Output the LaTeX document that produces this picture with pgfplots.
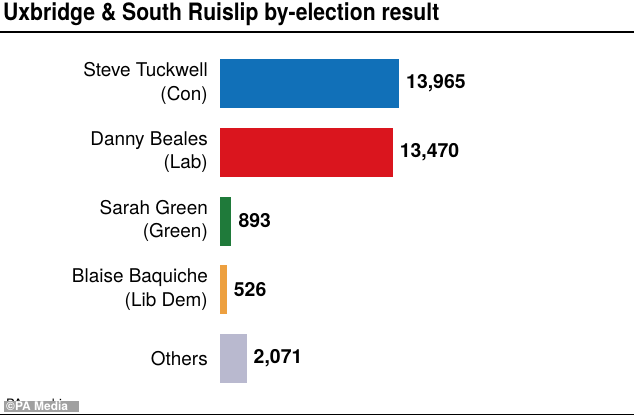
\documentclass[border=0pt]{standalone}
\usepackage{pgfplots}
\pgfplotsset{compat=1.18}
\usepackage{fontspec}
\setmainfont{TeX Gyre Heros}
\definecolor{con}{HTML}{1170B8}
\definecolor{lab}{HTML}{DA151E}
\definecolor{grn}{HTML}{1F7A3A}
\definecolor{ld}{HTML}{EDA040}
\definecolor{oth}{HTML}{B9B9CF}
\definecolor{pagrey}{HTML}{A0A0A0}
\begin{document}
\begin{tikzpicture}
\path[use as bounding box] (0bp,0bp) rectangle (634bp,417bp);
\node[anchor=base west, inner sep=0pt, font=\fontsize{24}{28}\selectfont\bfseries] at (3bp,396bp) {\scalebox{0.885}[1]{Uxbridge \& South Ruislip by-election result}};
\draw[line width=2bp] (0bp,385bp) -- (634bp,385bp);
\draw[line width=1.5bp] (0bp,2.5bp) -- (634bp,2.5bp);
\begin{axis}[
  at={(370bp,196bp)}, anchor=center,
  scale only axis, width=300bp, height=343.75bp,
  xmin=0, xmax=23404, ymin=-0.5, ymax=4.5, y dir=reverse,
  xbar, bar width=49bp,
  hide x axis,
  axis y line*=left,
  y axis line style={draw=none},
  major tick length=0pt,
  ytick={0,1,2,3,4},
  yticklabels={{Steve Tuckwell\\(Con)},{Danny Beales\\(Lab)},{Sarah Green\\(Green)},{Blaise Baquiche\\(Lib Dem)},{Others}},
  yticklabel style={align=right, font=\fontsize{19}{23.5}\selectfont, inner sep=0pt, xshift=-12bp},
  nodes near coords={\pgfmathprintnumber{\pgfplotspointmeta}},
  /pgf/number format/assume math mode=true,
  nodes near coords style={anchor=west, font=\fontsize{19.5}{22}\selectfont\bfseries, xshift=7bp, inner sep=0pt, text=black},
  point meta=x,
  clip=false,
]
\addplot[draw=none, fill=con, bar shift=0pt] coordinates {(13965,0)};
\addplot[draw=none, fill=lab, bar shift=0pt] coordinates {(13470,1)};
\addplot[draw=none, fill=grn, bar shift=0pt] coordinates {(893,2)};
\addplot[draw=none, fill=ld, bar shift=0pt] coordinates {(526,3)};
\addplot[draw=none, fill=oth, bar shift=0pt] coordinates {(2071,4)};
\end{axis}
\node[anchor=base west, inner sep=0pt, font=\fontsize{13}{15}\selectfont] at (6bp,9bp) {PA graphic};
\fill[pagrey] (4bp,5bp) rectangle (79bp,16bp);
\node[anchor=base west, inner sep=0pt, font=\fontsize{12}{14}\selectfont\bfseries, text=white] at (6bp,6.5bp) {\textcopyright PA Media};
\end{tikzpicture}
\end{document}
